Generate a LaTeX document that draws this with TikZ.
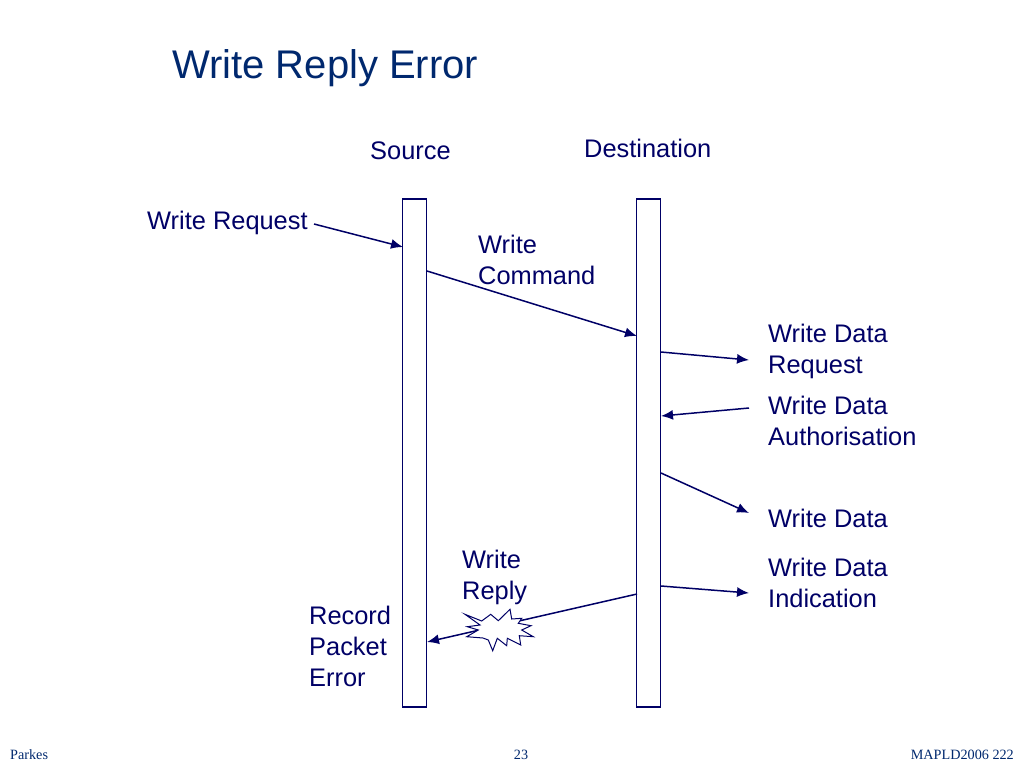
\documentclass[tikz,border=0pt]{standalone}
\usepackage{fontspec}
\setmainfont{Liberation Sans}
\newfontfamily\footfont{Liberation Serif}
\usetikzlibrary{arrows.meta}
\definecolor{navy}{RGB}{0,0,102}
\definecolor{titleblue}{RGB}{0,40,110}
\tikzset{
	lbl/.style={anchor=north west, inner sep=0pt, align=left, text=navy, font=\fontsize{25.4}{31}\selectfont},
	foot/.style={inner sep=0pt, text=titleblue, font=\footfont\fontsize{14.2}{16}\selectfont},
	lifeline/.style={draw=navy, line width=1.3pt, minimum width=24pt, anchor=north west, inner sep=0pt},
	msg/.style={draw=navy, line width=1.5pt, -{Latex[length=12pt,width=10pt]}}
}
\begin{document}
\begin{tikzpicture}[x=1pt, y=-1pt]
	\useasboundingbox (0,0) rectangle (1024,768);

	\node [anchor=north west, inner sep=0pt, text=titleblue, font=\fontsize{40}{48}\selectfont] (title) at (172,49) {Write Reply Error};

	% the two lifelines
	\node [lifeline, minimum height=508pt] (src) at (401.9,198.4) {};
	\node [lifeline, minimum height=508pt] (dst) at (635.9,198.4) {};

	\node [lbl] (srclbl) at (370,141.5) {Source};
	\node [lbl] (dstlbl) at (584,138.5) {Destination};

	\node [lbl] (req) at (147,211) {Write Request};
	\node [lbl] (cmd) at (478,235) {Write\\Command};
	\node [lbl] (wdr) at (768,324) {Write Data\\Request};
	\node [lbl] (wda) at (768,396) {Write Data\\Authorisation};
	\node [lbl] (wd) at (768,509) {Write Data};
	\node [lbl] (wdi) at (768,558) {Write Data\\Indication};
	\node [lbl] (rep) at (462,550) {Write\\Reply};
	\node [lbl] (rpe) at (309,606) {Record\\Packet\\Error};

	% free ends of the arrows
	\coordinate (reqa) at (314,224);
	\coordinate (reqb) at (403,247);
	\coordinate (cmda) at (427,271);
	\coordinate (cmdb) at (637,336);
	\coordinate (wdra) at (661,352);
	\coordinate (wdrb) at (749,360);
	\coordinate (wdaa) at (749,408);
	\coordinate (wdab) at (661,416);
	\coordinate (wda1) at (661,473);
	\coordinate (wdb1) at (749,513);
	\coordinate (wdia) at (661,586);
	\coordinate (wdib) at (749,593);
	\coordinate (repa) at (637,594);
	\coordinate (repb) at (427,642);

	\draw [msg] (reqa) -- (reqb);
	\draw [msg] (cmda) -- (cmdb);
	\draw [msg] (wdra) -- (wdrb);
	\draw [msg] (wdaa) -- (wdab);
	\draw [msg] (wda1) -- (wdb1);
	\draw [msg] (wdia) -- (wdib);
	\draw [msg] (repa) -- (repb);

	% the error burst on the reply
	\draw [draw=navy, line width=1pt, fill=white] (465,614.3) -- (481.7,621) -- (490.7,614.3) -- (498.3,620.7) -- (510,609.3) -- (511.7,619) -- (521.7,618.3) -- (518.3,623.3) -- (531,625.7) -- (521.7,630) -- (533.3,636.7) -- (519.3,635.7) -- (520.7,645) -- (507.3,638.3) -- (506.7,645.7) -- (497.3,638.3) -- (492.7,650.7) -- (488.3,640) -- (483,638) -- (466.7,636.7) -- (478.3,630) -- (467.3,626.7) -- (480,625) -- cycle;

	\node [foot, anchor=west] (ftl) at (10,755) {Parkes};
	\node [foot] (ftc) at (521,755) {23};
	\node [foot, anchor=east] (ftr) at (1014,755) {MAPLD2006 222};
\end{tikzpicture}
\end{document}
